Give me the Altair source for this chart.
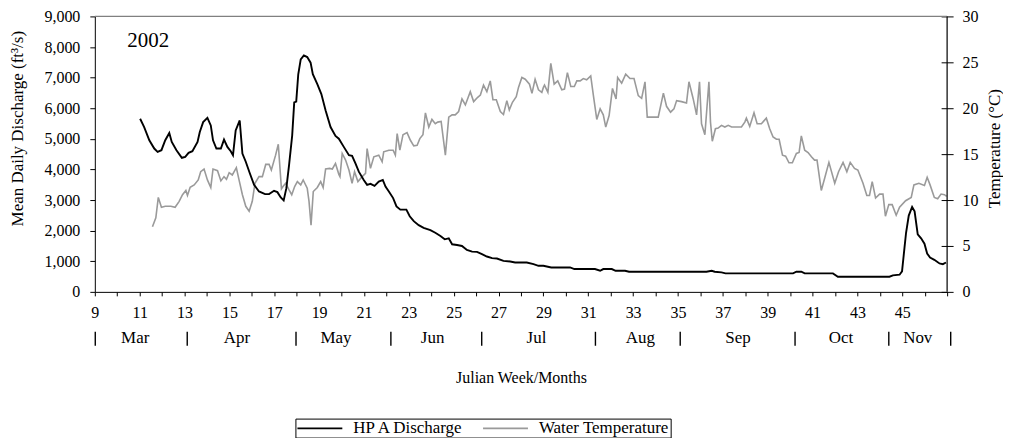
import altair as alt
import pandas as pd

# ---- data (x = Julian week) ----
dis_week = [11.02, 11.20, 11.43, 11.65, 11.80, 11.97, 12.14, 12.32, 12.43, 12.64, 12.88, 13.03, 13.18, 13.35,
            13.58, 13.68, 13.83, 14.02, 14.17, 14.27, 14.42, 14.62, 14.76, 14.91, 15.06, 15.16, 15.28, 15.46,
            15.58, 15.73, 15.91, 16.10, 16.32, 16.59, 16.77, 16.99, 17.14, 17.29, 17.42, 17.54, 17.66, 17.80,
            17.89, 17.98, 18.07, 18.18, 18.32, 18.47, 18.62, 18.72, 18.92, 19.10, 19.29, 19.51, 19.73, 19.88,
            20.10, 20.33, 20.47, 20.62, 20.77, 20.99, 21.14, 21.29, 21.47, 21.66, 21.84, 21.96, 22.11, 22.30,
            22.45, 22.62, 22.89, 23.04, 23.22, 23.44, 23.66, 23.96, 24.18, 24.41, 24.60, 24.78, 24.93, 25.15,
            25.37, 25.59, 25.82, 26.04, 26.26, 26.48, 26.71, 26.93, 27.22, 27.52, 27.74, 28.04, 28.26, 28.56,
            28.78, 29.00, 29.35, 29.67, 30.19, 30.38, 30.86, 31.30, 31.53, 31.67, 32.05, 32.22, 32.64, 32.82,
            33.23, 33.97, 34.72, 35.46, 36.27, 36.50, 36.64, 36.94, 37.12, 37.68, 38.13, 40.13, 40.28, 40.50,
            40.65, 41.91, 42.13, 42.36, 44.43, 44.58, 44.88, 44.99, 45.10, 45.17, 45.29, 45.44, 45.55, 45.69,
            45.84, 45.99, 46.11, 46.24, 46.43, 46.66, 46.81, 46.95]
dis_cfs = [5655, 5384, 4953, 4683, 4575, 4629, 4953, 5190, 4899, 4629, 4381, 4413, 4543, 4597,
           4899, 5222, 5546, 5686, 5438, 4953, 4683, 4683, 4974, 4737, 4597, 4467, 5276, 5600,
           4521, 4251, 3874, 3496, 3280, 3194, 3194, 3302, 3259, 3086, 2989, 3388, 4143, 5114,
           6193, 6215, 7110, 7596, 7725, 7672, 7488, 7110, 6786, 6463, 5924, 5384, 5093, 5006,
           4737, 4467, 4446, 4197, 3928, 3658, 3496, 3528, 3464, 3604, 3658, 3442, 3280, 3064,
           2794, 2687, 2687, 2471, 2309, 2180, 2093, 2018, 1932, 1824, 1716, 1748, 1554, 1532,
           1500, 1370, 1316, 1305, 1230, 1155, 1101, 1090, 1014, 992, 960, 960, 960, 906,
           852, 852, 798, 798, 798, 745, 745, 745, 690, 745, 745, 690, 690, 658,
           658, 658, 658, 658, 658, 690, 658, 636, 604, 604, 604, 604, 658, 658,
           604, 604, 496, 496, 496, 539, 561, 669, 1446, 1931, 2492, 2773, 2633, 1877,
           1748, 1575, 1252, 1122, 1047, 928, 906, 960]

temp_week = [11.57, 11.72, 11.83, 11.97, 12.14, 12.39, 12.58, 12.76, 12.91, 13.06, 13.13, 13.25, 13.43, 13.61,
             13.72, 13.87, 14.02, 14.17, 14.27, 14.47, 14.62, 14.76, 14.87, 14.99, 15.13, 15.31, 15.43, 15.58,
             15.73, 15.88, 16.02, 16.14, 16.32, 16.47, 16.62, 16.77, 16.87, 17.06, 17.18, 17.32, 17.39, 17.51,
             17.66, 17.78, 17.91, 18.03, 18.18, 18.29, 18.47, 18.55, 18.64, 18.74, 18.92, 19.07, 19.18, 19.29,
             19.47, 19.59, 19.73, 19.88, 19.93, 20.03, 20.18, 20.33, 20.47, 20.58, 20.73, 20.92, 21.07, 21.14,
             21.29, 21.44, 21.66, 21.81, 21.88, 22.11, 22.30, 22.40, 22.48, 22.60, 22.74, 22.92, 23.07, 23.22,
             23.37, 23.49, 23.63, 23.74, 23.89, 24.03, 24.18, 24.29, 24.44, 24.63, 24.78, 24.93, 25.07, 25.22,
             25.37, 25.52, 25.74, 25.89, 26.07, 26.19, 26.33, 26.48, 26.63, 26.75, 26.90, 27.08, 27.22, 27.37,
             27.48, 27.62, 27.79, 27.89, 28.04, 28.19, 28.38, 28.49, 28.63, 28.78, 28.93, 29.00, 29.05, 29.20,
             29.33, 29.48, 29.64, 29.82, 29.94, 30.07, 30.22, 30.38, 30.49, 30.64, 30.78, 30.93, 31.11, 31.23,
             31.38, 31.53, 31.67, 31.78, 31.93, 32.08, 32.24, 32.31, 32.49, 32.67, 32.86, 33.04, 33.23, 33.38,
             33.53, 33.63, 33.83, 34.12, 34.35, 34.49, 34.67, 34.82, 34.94, 35.16, 35.38, 35.49, 35.68, 35.83,
             35.96, 36.05, 36.20, 36.38, 36.45, 36.53, 36.67, 36.79, 36.94, 37.09, 37.24, 37.39, 37.68, 37.83,
             37.98, 38.05, 38.20, 38.39, 38.53, 38.72, 38.94, 39.09, 39.24, 39.39, 39.51, 39.66, 39.80, 39.95,
             40.10, 40.28, 40.40, 40.50, 40.65, 40.80, 40.95, 41.09, 41.20, 41.39, 41.54, 41.73, 41.99, 42.16,
             42.36, 42.53, 42.68, 42.87, 43.02, 43.25, 43.42, 43.54, 43.66, 43.81, 43.99, 44.14, 44.25, 44.40,
             44.55, 44.73, 44.88, 45.15, 45.40, 45.52, 45.74, 45.99, 46.11, 46.24, 46.43, 46.58, 46.73, 46.88,
             46.98]
temp_c = [7.09, 8.06, 10.29, 9.21, 9.32, 9.32, 9.21, 9.86, 10.58, 11.04, 10.50, 11.40, 11.65, 12.19,
          13.09, 13.38, 12.19, 11.37, 13.38, 13.20, 12.09, 12.55, 12.26, 12.98, 12.73, 13.52, 12.19, 10.58,
          9.32, 8.78, 9.86, 11.83, 12.55, 12.55, 13.88, 13.88, 13.27, 14.89, 16.08, 11.22, 11.47, 11.83,
          11.11, 10.58, 11.47, 12.01, 11.65, 12.19, 11.29, 9.86, 7.27, 10.93, 11.37, 12.01, 11.37, 13.38,
          13.45, 13.38, 13.99, 12.80, 12.55, 15.07, 14.35, 13.27, 11.83, 13.09, 12.01, 12.55, 12.91, 15.61,
          13.45, 14.71, 14.89, 14.17, 15.25, 15.43, 15.43, 14.89, 17.23, 15.43, 17.12, 17.34, 16.51, 15.90,
          15.97, 16.69, 17.12, 19.50, 17.95, 18.78, 18.31, 18.49, 18.56, 14.89, 19.03, 19.28, 19.28, 19.64,
          21.01, 20.36, 21.80, 20.72, 21.19, 21.44, 22.52, 21.80, 22.98, 20.93, 20.93, 19.64, 19.32, 20.83,
          19.82, 20.65, 21.26, 22.27, 23.35, 23.16, 22.62, 21.62, 23.16, 22.01, 21.73, 22.27, 22.52, 21.73,
          24.89, 22.62, 22.98, 22.01, 22.09, 23.88, 22.37, 22.37, 22.98, 22.98, 23.23, 23.09, 23.52, 21.37,
          18.78, 19.93, 19.28, 17.95, 19.21, 22.16, 21.01, 23.35, 22.73, 23.70, 23.23, 23.23, 21.37, 21.08,
          22.88, 19.03, 19.03, 19.03, 21.65, 20.21, 19.57, 19.93, 20.83, 20.72, 20.57, 22.88, 21.01, 19.28,
          22.88, 18.31, 17.12, 22.88, 18.49, 16.40, 17.77, 17.84, 18.13, 17.95, 18.13, 17.95, 17.95, 17.95,
          18.49, 18.92, 18.02, 19.50, 18.31, 18.31, 18.92, 17.77, 16.87, 16.62, 16.62, 14.89, 14.78, 14.06,
          14.06, 15.07, 15.18, 16.98, 15.43, 15.18, 14.71, 14.35, 14.35, 11.04, 12.37, 14.10, 11.83, 13.09,
          14.10, 13.09, 14.10, 13.45, 13.27, 11.83, 10.50, 10.50, 12.01, 10.22, 10.65, 10.65, 8.24, 9.50,
          9.50, 8.35, 9.21, 9.93, 10.29, 11.65, 11.83, 11.58, 12.48, 11.65, 10.29, 10.14, 10.65, 10.58,
          10.40]

months = ["Mar", "Apr", "May", "Jun", "Jul", "Aug", "Sep", "Oct", "Nov"]
month_week = [10.80, 15.34, 19.75, 24.06, 28.69, 33.32, 37.68, 42.27, 45.69]
sep_week = [9.02, 13.12, 17.97, 22.20, 26.25, 31.32, 35.10, 40.22, 44.40, 47.16]
series_names = ["HP A Discharge", "Water Temperature"]
series_colors = ["#000000", "#9a9a9a"]

FONT = "Liberation Serif"

df_d = pd.DataFrame({"week": dis_week, "discharge": dis_cfs, "series": series_names[0]})
df_t = pd.DataFrame({"week": temp_week, "temp": temp_c, "series": series_names[1]})
df_m = pd.DataFrame({"week": month_week, "label": months})
df_s = pd.DataFrame({"week": sep_week})
df_year = pd.DataFrame({"week": [10.45], "discharge": [8200], "label": ["2002"]})
df_top = pd.DataFrame({"discharge": [9000]})
df_right = pd.DataFrame({"week": [47]})

x_enc = alt.X(
    "week:Q",
    scale=alt.Scale(domain=[9, 47], nice=False, zero=False),
    axis=alt.Axis(
        values=list(range(9, 48)),
        labelExpr="datum.value % 2 == 1 && datum.value < 47 ? datum.label : ''",
        labelFlush=False, labelOverlap=False,
        tickSize=4, labelPadding=9, labelFontSize=16,
        title="Julian Week/Months", titleY=86, titleBaseline="middle", titleFontSize=16,
    ),
)
y_dis = alt.Y(
    "discharge:Q",
    scale=alt.Scale(domain=[0, 9000], nice=False),
    axis=alt.Axis(
        orient="left", values=list(range(0, 9001, 1000)), format=",.0f",
        tickSize=5, labelPadding=10, labelFontSize=16,
        title="Mean Daily Discharge (ft³/s)", titleX=-77, titleY=112, titleAngle=270,
        titleBaseline="middle", titleAlign="center", titleFontSize=17,
    ),
)
y_temp = alt.Y(
    "temp:Q",
    scale=alt.Scale(domain=[0, 30], nice=False),
    axis=alt.Axis(
        orient="right", values=[0, 5, 10, 15, 20, 25, 30], offset=-6, domain=False,
        tickSize=12, labelPadding=9, labelFontSize=16,
        title="Temperature (°C)", titleX=53, titleY=132, titleAngle=270,
        titleBaseline="middle", titleAlign="center", titleFontSize=17,
    ),
)
color_enc = alt.Color(
    "series:N",
    scale=alt.Scale(domain=series_names, range=series_colors),
    legend=alt.Legend(
        orient="none", legendX=201, legendY=403, direction="horizontal", title=None,
        strokeColor="black", padding=1, symbolType="M-1,0H5", symbolSize=225,
        symbolStrokeWidth=1.6, labelOffset=40, columnPadding=14,
        labelFont=FONT, labelFontSize=17, labelColor="black",
    ),
)

temp_line = alt.Chart(df_t).mark_line(strokeWidth=1.6).encode(x=x_enc, y=y_temp, color=color_enc)
dis_line = alt.Chart(df_d).mark_line(strokeWidth=1.9).encode(x=x_enc, y=y_dis, color=color_enc)
top_rule = alt.Chart(df_top).mark_rule(color="#808080", strokeWidth=1.2).encode(y=y_dis)
year_txt = alt.Chart(df_year).mark_text(align="left", baseline="middle", font=FONT, fontSize=21,
                                        color="black").encode(x=x_enc, y=y_dis, text="label:N")
left_group = alt.layer(top_rule, dis_line, year_txt)

month_txt = alt.Chart(df_m).mark_text(baseline="middle", font=FONT, fontSize=17, color="black").encode(
    x=x_enc, y=alt.value(322), text="label:N")
sep_rules = alt.Chart(df_s).mark_rule(color="black", strokeWidth=1.4).encode(
    x=x_enc, y=alt.value(316), y2=alt.value(330))
right_rule = alt.Chart(df_right).mark_rule(color="black", strokeWidth=1.2).encode(x=x_enc)

chart = (
    alt.layer(temp_line, left_group, month_txt, sep_rules, right_rule)
    .resolve_scale(y="independent")
    .properties(width=854, height=276, autosize="none",
                padding={"left": 87, "top": 8, "right": 56, "bottom": 146})
    .configure_view(stroke=None)
    .configure_axis(labelFont=FONT, titleFont=FONT, labelColor="black", titleColor="black",
                    titleFontWeight="normal", domainColor="black", tickColor="black", grid=False)
)

chart.save("out.html", embed_options={"renderer": "svg", "actions": False})
